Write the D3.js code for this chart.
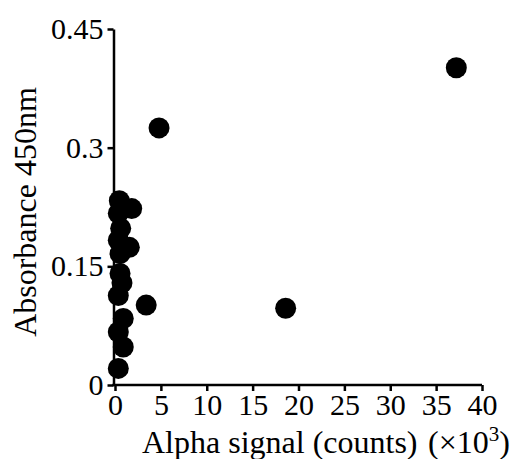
<!DOCTYPE html>
<html>
<head>
<meta charset="utf-8">
<script src="https://cdn.jsdelivr.net/npm/d3@7"></script>
<style>
  html, body { margin: 0; padding: 0; background: #fff; }
  svg text { font-family: "Liberation Serif", "Times New Roman", serif; fill: #000; }
</style>
</head>
<body>
<svg id="chart" width="516" height="459"></svg>
<script>
// Alpha signal (thousands of counts) vs absorbance at 450 nm
const alphaSignal = [0.47, 1.82, 0.36, 0.62, 0.36, 1.56, 0.55, 0.55, 0.76, 0.36, 0.9, 0.36, 0.9, 0.36, 3.4, 4.8, 18.6, 37.2];
const absorbance  = [0.233, 0.223, 0.217, 0.198, 0.183, 0.174, 0.166, 0.141, 0.129, 0.113, 0.084, 0.067, 0.048, 0.021, 0.101, 0.325, 0.097, 0.401];

const xTicks = [0, 5, 10, 15, 20, 25, 30, 35, 40];
const yTicks = [0, 0.15, 0.3, 0.45];
const yTickLabels = ["0", "0.15", "0.3", "0.45"];

const svg = d3.select("#chart");

const x = d3.scaleLinear().domain([0, 40]).range([115, 482]);
const y = d3.scaleLinear().domain([0, 0.45]).range([385, 29]);

const xAxis = d3.axisBottom(x)
  .tickValues(xTicks)
  .tickFormat(d3.format("d"))
  .tickSize(6)
  .tickSizeOuter(0)
  .tickPadding(3);

const yAxis = d3.axisLeft(y)
  .tickValues(yTicks)
  .tickFormat((d, i) => yTickLabels[i])
  .tickSize(6)
  .tickSizeOuter(0)
  .tickPadding(4);

const gx = svg.append("g").attr("transform", `translate(0,${y(0)})`).call(xAxis);
const gy = svg.append("g").attr("transform", `translate(${x(0) - 1.5},0)`).call(yAxis);

[gx, gy].forEach(g => {
  g.selectAll("path.domain").attr("stroke", "#000").attr("stroke-width", 2.5);
  g.selectAll(".tick line").attr("stroke", "#000").attr("stroke-width", 2.5);
  g.selectAll(".tick text")
    .style("font-family", '"Liberation Serif", "Times New Roman", serif')
    .style("font-size", "30px")
    .attr("fill", "#000");
});
// extend x domain line to meet the y axis
gx.select("path.domain").attr("d", `M${x(0) - 2.7},0H${x(40)}`);

// scatter points
svg.append("g")
  .selectAll("circle")
  .data(alphaSignal.map((v, i) => ({ x: v, y: absorbance[i] })))
  .join("circle")
  .attr("cx", d => x(d.x))
  .attr("cy", d => y(d.y))
  .attr("r", 10.5)
  .attr("fill", "#000");

// axis titles
svg.append("text")
  .attr("x", 142)
  .attr("y", 453)
  .style("font-size", "32px")
  .text("Alpha signal (counts)");

const unit = svg.append("text")
  .attr("x", 428)
  .attr("y", 453)
  .style("font-size", "32px");
unit.append("tspan").text("(\u00D710");
unit.append("tspan").attr("dy", -12).style("font-size", "21px").text("3");
unit.append("tspan").attr("dy", 12).text(")");

svg.append("text")
  .attr("transform", "translate(36,212) rotate(-90)")
  .attr("text-anchor", "middle")
  .style("font-size", "32px")
  .text("Absorbance 450nm");
</script>
</body>
</html>
